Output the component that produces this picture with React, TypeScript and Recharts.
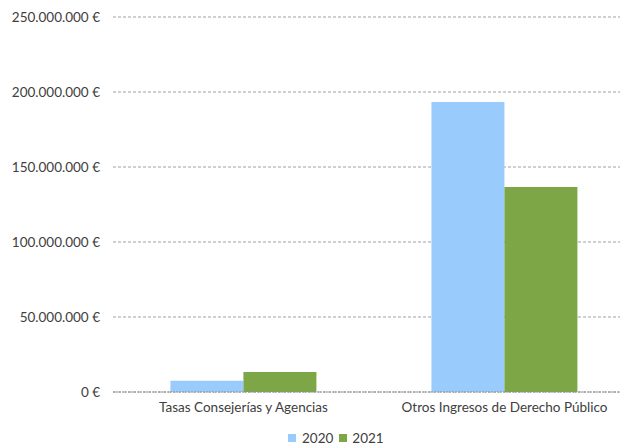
import React from 'react';
import { BarChart, Bar, XAxis, YAxis, CartesianGrid, Legend } from 'recharts';

const categories = ['Tasas Consejerías y Agencias', 'Otros Ingresos de Derecho Público'];
const values2020 = [7500000, 193300000];
const values2021 = [13300000, 136700000];
const yTicks = [0, 50000000, 100000000, 150000000, 200000000, 250000000];

const data = categories.map((name, i) => ({
  name,
  y2020: values2020[i],
  y2021: values2021[i],
}));

const COLORS = { y2020: '#9ACBFD', y2021: '#7DA647' };
const FONT = 'Lato, "Open Sans", sans-serif';

const formatEuro = (v: number) =>
  String(Math.round(v)).replace(/\B(?=(\d{3})+(?!\d))/g, '.') + ' €';

const LegendContent: React.FC<any> = () => (
  <div
    style={{
      display: 'flex',
      justifyContent: 'flex-start',
      alignItems: 'center',
      height: 30,
      paddingLeft: 288,
      paddingTop: 10,
      boxSizing: 'border-box',
      fontFamily: FONT,
      fontSize: 13.5,
      color: '#404040',
    }}
  >
    <span style={{ width: 8, height: 8, background: COLORS.y2020, marginRight: 6 }} />
    <span style={{ marginRight: 6 }}>2020</span>
    <span style={{ width: 8, height: 8, background: COLORS.y2021, marginRight: 5 }} />
    <span>2021</span>
  </div>
);

export default function App() {
  return (
    <div style={{ position: 'absolute', left: 0, top: 0, width: 620, height: 448, overflow: 'hidden', background: '#fff' }}>
      <BarChart
        width={640}
        height={448}
        data={data}
        margin={{ top: 17, right: 5, bottom: 0, left: 0 }}
        barCategoryGap="22%"
        barGap={0}
      >
        <CartesianGrid vertical={false} stroke="#a0a0a0" strokeDasharray="3 2" />
        <XAxis
          dataKey="name"
          height={26}
          tickLine={false}
          axisLine={{ stroke: '#8c8c8c', strokeDasharray: '2 1' }}
          tick={{ fill: '#404040', fontSize: 13.5, fontFamily: FONT }}
          tickMargin={4}
          interval={0}
        />
        <YAxis
          width={113}
          domain={[0, 250000000]}
          ticks={yTicks}
          tickFormatter={formatEuro}
          axisLine={false}
          tickLine={false}
          tickMargin={7}
          tick={{ fill: '#404040', fontSize: 13.5, fontFamily: FONT }}
        />
        <Legend verticalAlign="bottom" height={30} content={<LegendContent />} />
        <Bar dataKey="y2020" name="2020" fill={COLORS.y2020} isAnimationActive={false} />
        <Bar dataKey="y2021" name="2021" fill={COLORS.y2021} isAnimationActive={false} />
      </BarChart>
    </div>
  );
}
